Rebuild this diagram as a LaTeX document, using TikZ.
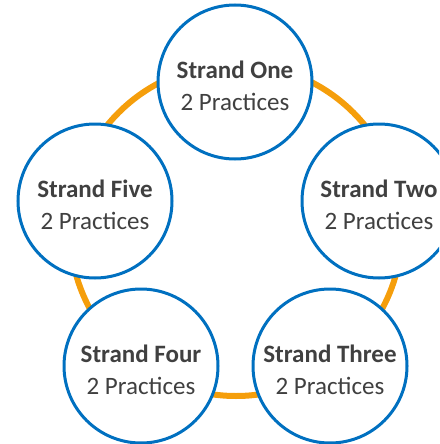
\documentclass[tikz,border=0pt]{standalone}
\usepackage{fontspec}
\setmainfont{Carlito}
\definecolor{strandblue}{RGB}{0,112,192}
\definecolor{ringorange}{RGB}{245,158,11}
\definecolor{textgray}{RGB}{64,64,64}
\tikzset{
	strand/.style={circle, draw=strandblue, line width=3pt, fill=white, inner sep=0pt, minimum size=154pt},
	strandtext/.style={align=center, text=textgray, inner sep=0pt, font=\fontsize{25}{32}\selectfont}
}
\begin{document}
\begin{tikzpicture}[x=1pt, y=-1pt]
	\useasboundingbox (0,0) rectangle (439,444);
	\clip (0,0) rectangle (439,444);
	\draw[ringorange, line width=6pt] (236,230) circle (166);
	\node[strand] (one) at (235,82) {};
	\node[strand] (two) at (379,201) {};
	\node[strand] (three) at (330,366) {};
	\node[strand] (four) at (141,366) {};
	\node[strand] (five) at (95,201) {};
	\node[strandtext] (onetext) at ([yshift=-4pt]one.center) {\textbf{Strand One}\\2 Practices};
	\node[strandtext] (twotext) at ([yshift=-4pt]two.center) {\textbf{Strand Two}\\2 Practices};
	\node[strandtext] (threetext) at ([yshift=-4pt]three.center) {\textbf{Strand Three}\\2 Practices};
	\node[strandtext] (fourtext) at ([yshift=-4pt]four.center) {\textbf{Strand Four}\\2 Practices};
	\node[strandtext] (fivetext) at ([yshift=-4pt]five.center) {\textbf{Strand Five}\\2 Practices};
\end{tikzpicture}
\end{document}
